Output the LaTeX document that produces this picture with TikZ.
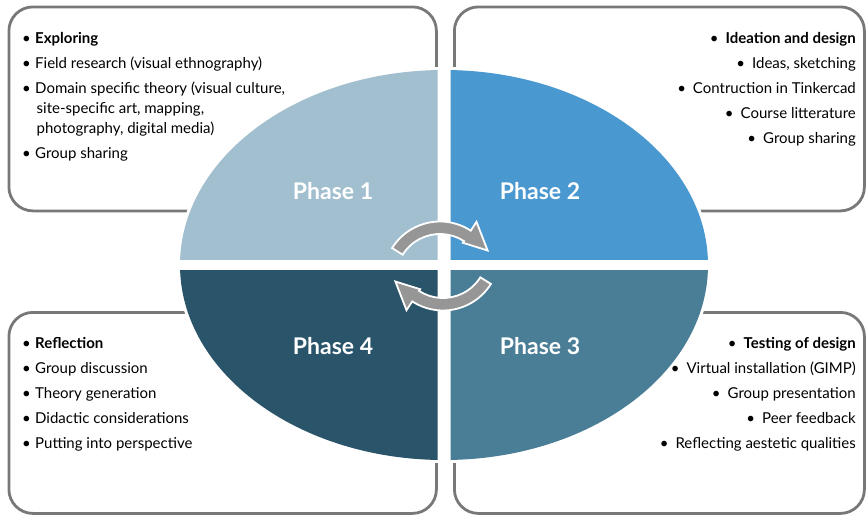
\documentclass[tikz,border=0pt]{standalone}
\usepackage{fontspec}
\setmainfont{Lato}
\definecolor{pone}{RGB}{162,191,208}
\definecolor{ptwo}{RGB}{74,152,208}
\definecolor{pthree}{RGB}{74,125,150}
\definecolor{pfour}{RGB}{41,84,105}
\definecolor{boxgray}{RGB}{120,120,120}
\definecolor{arrgray}{RGB}{150,150,150}
\newcommand{\cycarrow}[3]{%
  \fill[arrgray, draw=white, line width=1.8pt, line join=miter]
    ([shift={(#1,#2)}]212+#3:56.5) arc[start angle=212+#3, end angle=303+#3, radius=56.5]
    -- ([shift={(#1,#2)}]303+#3:67) -- ([shift={(#1,#2)}]330+#3:55)
    -- ([shift={(#1,#2)}]303+#3:42) -- ([shift={(#1,#2)}]303+#3:44)
    arc[start angle=303+#3, end angle=212+#3, radius=44] -- cycle;}
\newcommand{\bul}{\makebox[13pt][l]{•}}
\begin{document}
\begin{tikzpicture}[x=1pt,y=-1pt,
  panel/.style={draw=boxgray, line width=2.8pt, rounded corners=24pt, inner sep=0pt, anchor=north west},
  listtxt/.style={inner sep=0pt, font=\fontsize{15}{20}\selectfont, text=black},
  phase/.style={text=white, inner sep=0pt, font=\fontsize{23}{27}\selectfont\bfseries}]
\useasboundingbox (0,0) rectangle (866,515);
% panels
\node[panel, minimum width=427.5pt, minimum height=204pt] (b1) at (7.5,5.5) {};
\node[panel, minimum width=410pt, minimum height=204pt] (b2) at (453,5.5) {};
\node[panel, minimum width=427.5pt, minimum height=201pt] (b3) at (7.5,311) {};
\node[panel, minimum width=410pt, minimum height=201pt] (b4) at (453,311) {};
% ellipse halo
\fill[white, draw=white, line width=6pt] (444,265) ellipse [x radius=264, y radius=195];
\begin{scope}
  \clip (0,0) rectangle (437.5,259);
  \fill[pone] (444,265) ellipse [x radius=264, y radius=195];
\end{scope}
\begin{scope}
  \clip (450.5,0) rectangle (866,259);
  \fill[ptwo] (444,265) ellipse [x radius=264, y radius=195];
\end{scope}
\begin{scope}
  \clip (450.5,270.5) rectangle (866,515);
  \fill[pthree] (444,265) ellipse [x radius=264, y radius=195];
\end{scope}
\begin{scope}
  \clip (0,270.5) rectangle (437.5,515);
  \fill[pfour] (444,265) ellipse [x radius=264, y radius=195];
\end{scope}
% arrows
\cycarrow{440}{278}{0}
\cycarrow{443}{254}{180}
% phase labels
\node[phase] (ph1) at (333,191) {Phase 1};
\node[phase] (ph2) at (540,191) {Phase 2};
\node[phase] (ph3) at (540,346) {Phase 3};
\node[phase] (ph4) at (333,346) {Phase 4};
% lists
\node[listtxt, anchor=base west] (t1) at (22,43) {\begin{tabular}[t]{@{}l@{}}
\bul\textbf{Exploring}\\[5pt]
\bul Field research (visual ethnography)\\[5pt]
\bul Domain specific theory (visual culture,\\
\hspace{14.5pt}site-specific art, mapping,\\
\hspace{14.5pt}photography, digital media)\\[5.5pt]
\bul Group sharing
\end{tabular}};
\node[listtxt, anchor=base east] (t2) at (856,43) {\begin{tabular}[t]{@{}r@{}}
•\hspace{7pt}\textbf{Ideation and design}\\[5pt]
•\hspace{7pt}Ideas, sketching\\[5pt]
•\hspace{7pt}Contruction in Tinkercad\\[5pt]
•\hspace{7pt}Course litterature\\[5pt]
•\hspace{7pt}Group sharing
\end{tabular}};
\node[listtxt, anchor=base west] (t3) at (22,348) {\begin{tabular}[t]{@{}l@{}}
\bul\textbf{Reflection}\\[5pt]
\bul Group discussion\\[5pt]
\bul Theory generation\\[5pt]
\bul Didactic considerations\\[5pt]
\bul Putting into perspective
\end{tabular}};
\node[listtxt, anchor=base east] (t4) at (856,348) {\begin{tabular}[t]{@{}r@{}}
•\hspace{7pt}\textbf{Testing of design}\\[5pt]
•\hspace{7pt}Virtual installation (GIMP)\\[5pt]
•\hspace{7pt}Group presentation\\[5pt]
•\hspace{7pt}Peer feedback\\[5pt]
•\hspace{7pt}Reflecting aestetic qualities
\end{tabular}};
\end{tikzpicture}
\end{document}
